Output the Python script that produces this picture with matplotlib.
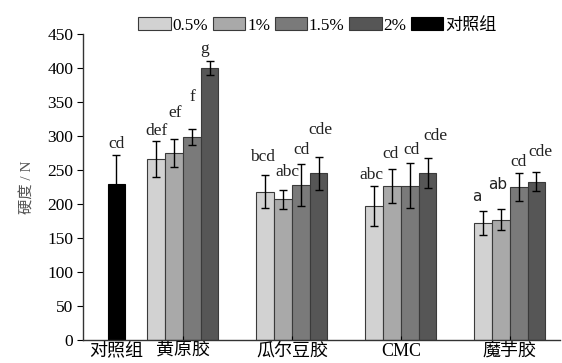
import matplotlib
matplotlib.use('Agg')
import matplotlib.pyplot as plt
import numpy as np

# 数据
groups = ['黄原胶', '瓜尔豆胶', 'CMC', '魔芋胶']
concentrations = ['0.5%', '1%', '1.5%', '2%']
hardness_05 = [266, 218, 197, 172]
hardness_1 = [275, 207, 227, 177]
hardness_15 = [299, 228, 227, 225]
hardness_2 = [400, 245, 246, 233]
err_05 = [26, 24, 30, 17]
err_1 = [21, 14, 25, 15]
err_15 = [12, 31, 33, 20]
err_2 = [10, 24, 22, 14]
letters_05 = ['def', 'bcd', 'abc', 'a']
letters_1 = ['ef', 'abc', 'cd', 'ab']
letters_15 = ['f', 'cd', 'cd', 'cd']
letters_2 = ['g', 'cde', 'cde', 'cde']
control_label = '对照组'
control_value = 229
control_err = 43
control_letter = 'cd'

# 标注偏移 (像素)
offsets_05 = [(0, 10), (-3, 18), (-3, 11), (-6, 15)]
offsets_1 = [(1, 26), (4, 18), (-1, 15), (-3, 25)]
offsets_15 = [(1, 32), (1, 14), (2, 13), (0, 11)]
offsets_2 = [(-5, 12), (2, 27), (8, 22), (4, 20)]

values = [hardness_05, hardness_1, hardness_15, hardness_2]
errors = [err_05, err_1, err_15, err_2]
letters = [letters_05, letters_1, letters_15, letters_2]
offsets = [offsets_05, offsets_1, offsets_15, offsets_2]
colors = ['#d2d2d2', '#a9a9a9', '#7a7a7a', '#565656']

plt.rcParams['font.family'] = ['Liberation Serif', 'Noto Sans CJK SC']
plt.rcParams['font.size'] = 12.5

fig = plt.figure(figsize=(5.62, 3.63), dpi=100)
ax = fig.add_axes([0.1477, 0.0634, 0.8487, 0.8429])

x = np.arange(1, len(groups) + 1)
control_x = 0.39
width = 0.163
ekw = dict(ecolor='black', elinewidth=1.0, capsize=3, capthick=1.0)

for i in range(4):
    xs = x + (i - 1.5) * width
    ax.bar(xs, values[i], width, yerr=errors[i], color=colors[i], edgecolor='#3a3a3a',
           linewidth=0.8, label=concentrations[i], error_kw=ekw)
    for xi, v, e, t, (dx, dy) in zip(xs, values[i], errors[i], letters[i], offsets[i]):
        if t in ('a', 'ab'):
            fam, fs = ['DejaVu Sans'], 11
        else:
            fam, fs = plt.rcParams['font.family'], 12.5
        ax.annotate(t, (xi, v + e), xytext=(dx, dy), textcoords='offset pixels',
                    ha='center', va='center', fontsize=fs, color='#222222', family=fam)

ax.bar([control_x], [control_value], width, yerr=[control_err], color='black', edgecolor='black',
       linewidth=0.8, label=control_label, error_kw=ekw)
ax.annotate(control_letter, (control_x, control_value + control_err), xytext=(0, 11),
            textcoords='offset pixels', ha='center', va='center', fontsize=12.5, color='#222222')

ax.set_xlim(0.083, 4.46)
ax.set_ylim(0, 450)
ax.set_yticks(np.arange(0, 451, 50))
ax.set_xticks([control_x] + list(x))
ax.set_xticklabels([control_label] + groups, fontsize=13)
ax.tick_params(axis='x', direction='in', length=3, pad=2)
ax.tick_params(axis='y', direction='out', length=4, labelsize=12.5, pad=3)
ax.spines['top'].set_visible(False)
ax.spines['right'].set_visible(False)
for s in ['left', 'bottom']:
    ax.spines[s].set_color('#333333')
    ax.spines[s].set_linewidth(1.0)

ax.set_ylabel('硬度 / N', fontsize=11, color='#555555', labelpad=9)

fig.legend(loc='center', bbox_to_anchor=(0.565, 0.93), ncol=5, frameon=False,
           fontsize=12.3, handlelength=1.9, handleheight=0.75, handletextpad=0.12,
           columnspacing=0.25, borderpad=0)

plt.savefig('out.png', dpi=100)
